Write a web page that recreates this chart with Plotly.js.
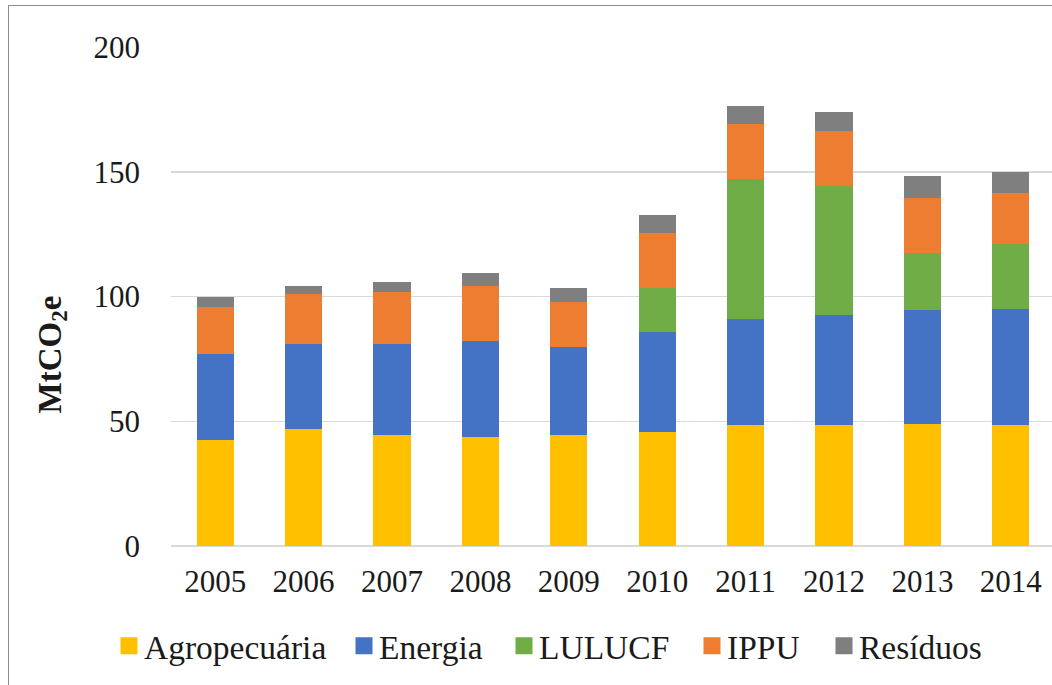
<!DOCTYPE html>
<html>
<head>
<meta charset="utf-8">
<script src="https://cdn.plot.ly/plotly-3.0.1.min.js"></script>
<style>
  html, body { margin: 0; padding: 0; background: #fff; }
  #wrap { position: relative; width: 1052px; height: 685px; overflow: hidden; }
  #chart { width: 1052px; height: 685px; }
  #frame { position: absolute; left: 8px; top: 5px; width: 1100px; height: 700px;
           border-left: 1.5px solid #8c8c8c; border-top: 1.5px solid #8c8c8c; pointer-events: none; }
</style>
</head>
<body>
<div id="wrap">
  <div id="chart"></div>
  <div id="frame"></div>
</div>
<script>
const years = ['2005','2006','2007','2008','2009','2010','2011','2012','2013','2014'];
const agropecuaria = [42.6, 46.7, 44.4, 43.7, 44.4, 45.5, 48.4, 48.4, 48.9, 48.4];
const energia      = [34.2, 34.1, 36.4, 38.6, 35.4, 40.1, 42.4, 44.0, 45.6, 46.6];
const lulucf       = [0, 0, 0, 0, 0, 17.9, 56.4, 51.9, 23.1, 26.0];
const ippu         = [19.1, 20.1, 21.0, 21.9, 17.9, 22.1, 22.1, 22.0, 22.0, 20.3];
const residuos     = [4.1, 3.3, 4.0, 5.4, 5.8, 7.1, 7.2, 7.7, 8.7, 8.7];
const yTicks = [0, 50, 100, 150, 200];

const seriesNames = ['Agropecuária', 'Energia', 'LULUCF', 'IPPU', 'Resíduos'];
const seriesData = [agropecuaria, energia, lulucf, ippu, residuos];
const seriesColors = ['#FFC000', '#4472C4', '#70AD47', '#ED7D31', '#7F7F7F'];

const FONT = '"Liberation Serif", "Times New Roman", Times, serif';
const W = 1052, H = 685, ML = 171, MR = 0, MT = 47, MB = 139;
const plotW = W - ML - MR, plotH = H - MT - MB;
const px2x = p => (p - ML) / plotW;
const px2y = p => (H - MB - p) / plotH;

// legend entry left edges (pixels) — one legend per entry
const legendLeft = [104, 339, 499, 687, 819];
const legendIds = ['legend', 'legend2', 'legend3', 'legend4', 'legend5'];

const traces = seriesNames.map((n, i) => ({
  type: 'bar',
  name: n,
  x: years,
  y: seriesData[i],
  marker: { color: seriesColors[i] },
  legend: legendIds[i],
  hoverinfo: 'x+y+name'
}));

const layout = {
  width: W,
  height: H,
  margin: { l: ML, r: MR, t: MT, b: MB },
  paper_bgcolor: '#ffffff',
  plot_bgcolor: '#ffffff',
  barmode: 'stack',
  bargap: 0.58,
  showlegend: true,
  font: { family: FONT, color: '#1a1a1a', size: 31 },
  xaxis: {
    type: 'category',
    range: [-0.5, 9.466],
    showgrid: false,
    zeroline: false,
    showline: false,
    ticks: '',
    ticklabelstandoff: 14,
    tickfont: { family: FONT, size: 31, color: '#1a1a1a' },
    fixedrange: true
  },
  yaxis: {
    range: [0, 200],
    tickvals: yTicks,
    ticktext: yTicks.map(String),
    showgrid: true,
    gridcolor: '#d9d9d9',
    gridwidth: 1.5,
    zeroline: true,
    zerolinecolor: '#d9d9d9',
    zerolinewidth: 1.5,
    showline: false,
    ticks: '',
    ticklabelstandoff: 30,
    tickfont: { family: FONT, size: 31, color: '#1a1a1a' },
    fixedrange: true
  },
  annotations: [{
    xref: 'paper', yref: 'paper',
    x: px2x(52), y: px2y(354.5),
    xanchor: 'center', yanchor: 'middle',
    text: '<b>MtCO<sub>2</sub>e</b>',
    textangle: -90,
    showarrow: false,
    font: { family: FONT, size: 33, color: '#1a1a1a' }
  }]
};

legendIds.forEach((id, i) => {
  layout[id] = {
    orientation: 'h',
    x: px2x(legendLeft[i]),
    xanchor: 'left',
    y: px2y(646),
    yanchor: 'middle',
    font: { family: FONT, size: 33.5, color: '#1a1a1a' },
    bgcolor: 'rgba(0,0,0,0)'
  };
});

function enlargeSwatches() {
  const gd = document.getElementById('chart');
  gd.querySelectorAll('.legendpoints path').forEach(p => {
    p.setAttribute('d', 'M13.5,8.5H-3.5V-8.5H13.5Z');
  });
}

Plotly.newPlot('chart', traces, layout, { displayModeBar: false, staticPlot: true }).then(gd => {
  enlargeSwatches();
  gd.on('plotly_afterplot', enlargeSwatches);
  setTimeout(enlargeSwatches, 0);
  requestAnimationFrame(enlargeSwatches);
});
</script>
</body>
</html>
